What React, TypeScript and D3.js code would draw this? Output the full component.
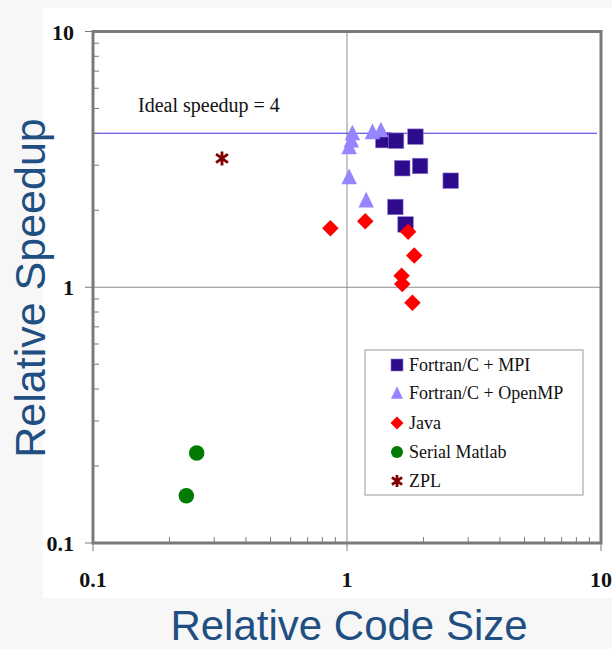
import React from 'react';
import * as d3 from 'd3';

// values (relative code size, relative speedup)
const mpiSize = [1.39, 1.56, 1.86, 1.65, 1.94, 2.56, 1.55, 1.70];
const mpiSpeedup = [3.76, 3.74, 3.88, 2.92, 2.98, 2.61, 2.06, 1.76];
const ompSize = [1.05, 1.04, 1.02, 1.26, 1.36, 1.02, 1.19];
const ompSpeedup = [4.01, 3.76, 3.54, 4.05, 4.12, 2.70, 2.19];
const javaSize = [0.86, 1.18, 1.74, 1.84, 1.64, 1.65, 1.81];
const javaSpeedup = [1.70, 1.81, 1.65, 1.33, 1.11, 1.03, 0.87];
const matlabSize = [0.256, 0.233];
const matlabSpeedup = [0.225, 0.153];
const zplSize = [0.322];
const zplSpeedup = [3.19];

const seriesNames = ['Fortran/C + MPI', 'Fortran/C + OpenMP', 'Java', 'Serial Matlab', 'ZPL'];
const seriesColors = ['#2e0b8c', '#9585ff', '#ff0000', '#007a00', '#800000'];
const majorTicks = [0.1, 1, 10];
const tickLabels = ['0.1', '1', '10'];
const idealSpeedup = 4;

const W = 612;
const H = 649;
const left = 93, right = 601, top = 31.5, bottom = 543;

const x = d3.scaleLog().domain([0.1, 10]).range([left, right]);
const y = d3.scaleLog().domain([0.1, 10]).range([bottom, top]);

const minorTicks = [0.1, 1].flatMap(b => d3.range(2, 10).map(k => b * k));

function Marker({ kind, size, color }: { kind: number; size: number; color: string }) {
  if (kind === 0) {
    return <rect x={-size / 2} y={-size / 2} width={size} height={size} fill={color} stroke="#8a7ad0" strokeWidth={0.6} />;
  }
  if (kind === 1) {
    const h = size * 0.95;
    return <path d={`M0,${-h / 2 - 1}L${size / 2},${h / 2}L${-size / 2},${h / 2}Z`} fill={color} />;
  }
  if (kind === 2) {
    const r = size / 2 + 0.5;
    return <path d={`M0,${-r}L${r},0L0,${r}L${-r},0Z`} fill={color} />;
  }
  if (kind === 3) {
    return <circle r={size / 2} fill={color} />;
  }
  const r = size / 2;
  const a = r * 0.85;
  return (
    <path
      d={`M0,${-r}V${r}M${-a},${-r * 0.6}L${a},${r * 0.6}M${-a},${r * 0.6}L${a},${-r * 0.6}`}
      stroke={color}
      strokeWidth={2.8}
      fill="none"
    />
  );
}

export default function App() {
  const series = [
    [mpiSize, mpiSpeedup],
    [ompSize, ompSpeedup],
    [javaSize, javaSpeedup],
    [matlabSize, matlabSpeedup],
    [zplSize, zplSpeedup],
  ];
  const legendRows = [365, 393, 423, 452, 481];

  return (
    <svg width={W} height={H} style={{ position: 'absolute', left: 0, top: 0 }}>
      <rect width={W} height={H} fill="#f7f7f7" />
      <rect x={43} y={8} width={W - 43} height={590} fill="#ffffff" />

      {/* reference lines */}
      <line x1={x(1)} x2={x(1)} y1={top} y2={bottom} stroke="#b4b4b4" strokeWidth={1.5} />
      <line x1={left} x2={right} y1={y(1)} y2={y(1)} stroke="#8c8c8c" strokeWidth={1} />
      <line x1={left} x2={right - 4} y1={y(idealSpeedup)} y2={y(idealSpeedup)} stroke="#3a2ee0" strokeWidth={1.2} />
      <text x={138} y={112} fontFamily="Liberation Serif, serif" fontSize={20} fill="#111">
        Ideal speedup = 4
      </text>

      {/* frame */}
      <rect x={left} y={top} width={right - left} height={bottom - top} fill="none" stroke="#7a7a7a" strokeWidth={3} />

      {/* ticks */}
      <g stroke="#7a7a7a" strokeWidth={1}>
        {minorTicks.map(t => (
          <g key={t}>
            <line x1={left} x2={left + 6} y1={y(t)} y2={y(t)} />
            <line x1={x(t)} x2={x(t)} y1={bottom} y2={bottom - 6} />
          </g>
        ))}
        {majorTicks.map(t => (
          <g key={t}>
            <line x1={left - 8} x2={left} y1={y(t)} y2={y(t)} />
            <line x1={x(t)} x2={x(t)} y1={bottom} y2={bottom + 8} />
          </g>
        ))}
      </g>
      <g fontFamily="Liberation Serif, serif" fontWeight="bold" fontSize={22} fill="#111">
        {majorTicks.map((t, i) => (
          <text key={'y' + t} x={74} y={y(t) + 8} textAnchor="end">{tickLabels[i]}</text>
        ))}
        {majorTicks.map((t, i) => (
          <text key={'x' + t} x={x(t)} y={587} textAnchor="middle">{tickLabels[i]}</text>
        ))}
      </g>

      {/* points */}
      {series.map(([xs, ys], si) => (
        <g key={si}>
          {xs.map((v, i) => (
            <g key={i} transform={`translate(${x(v)},${y(ys[i])})`}>
              <Marker kind={si} size={si === 4 ? 14 : 15.5} color={seriesColors[si]} />
            </g>
          ))}
        </g>
      ))}

      {/* legend */}
      <rect x={365} y={350} width={218} height={145} fill="#fff" stroke="#999" strokeWidth={1} />
      {seriesNames.map((name, i) => (
        <g key={name}>
          <g transform={`translate(397,${legendRows[i]})`}>
            <Marker kind={i} size={12} color={seriesColors[i]} />
          </g>
          <text x={409} y={legendRows[i] + 6} fontFamily="Liberation Serif, serif" fontSize={18} fill="#111">
            {name}
          </text>
        </g>
      ))}

      {/* axis titles */}
      <text
        transform={`translate(45,288) rotate(-90)`}
        textAnchor="middle"
        fontFamily="Liberation Sans, Arial, sans-serif"
        fontSize={43}
        fill="#1f4f82"
      >
        Relative Speedup
      </text>
      <text x={349} y={640} textAnchor="middle" fontFamily="Liberation Sans, Arial, sans-serif" fontSize={42} fill="#1f4f82">
        Relative Code Size
      </text>
    </svg>
  );
}
